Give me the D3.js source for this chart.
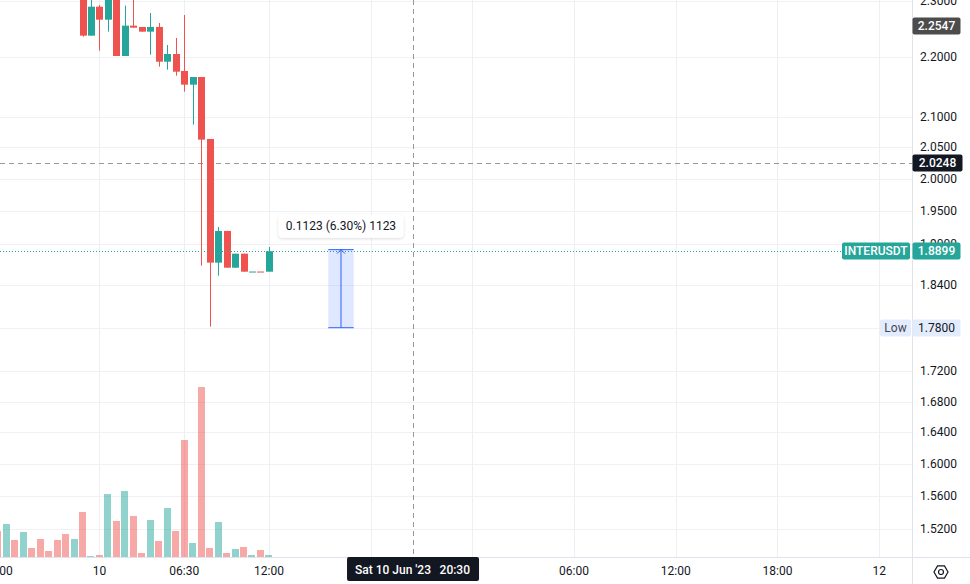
<!DOCTYPE html>
<html><head><meta charset="utf-8">
<script src="https://cdn.jsdelivr.net/npm/d3@7"></script>
<style>
body{margin:0;background:#fff;}
svg{display:block;font-family:Roboto,"Noto Sans",sans-serif;}
</style>
</head><body>
<svg id="chart" width="970" height="584"></svg>
<script>
// ---- data (30-min bars, INTERUSDT) ----
const barIndex = [-10,-9,-8,-7,-6,-5,-4,-3,-2,-1,0,1,2,3,4,5,6,7,8,9,10,11,12,13,14,15,16,17,18,19,20,21,22];
const opens  = [2.62,2.58,2.63,2.57,2.60,2.56,2.50,2.48,2.43,2.36,2.40,2.2377,2.2891,2.2659,2.32,2.2023,2.2553,2.2530,2.2447,2.2530,2.1925,2.2058,2.1766,2.1534,2.1664,2.0637,1.8731,1.9202,1.8657,1.8863,1.8599,1.8601,1.8599];
const highs  = [2.66,2.65,2.64,2.62,2.61,2.57,2.52,2.49,2.44,2.42,2.41,2.31,2.2921,2.33,2.33,2.2909,2.31,2.2530,2.2778,2.2600,2.2214,2.2337,2.2742,2.1664,2.1664,2.0637,1.9262,1.9202,1.8863,1.8863,1.8601,1.8601,1.8962];
const lows   = [2.56,2.57,2.55,2.56,2.54,2.49,2.46,2.41,2.35,2.35,2.2359,2.2377,2.2115,2.2447,2.2023,2.2023,2.2517,2.2447,2.2046,2.1839,2.1788,2.1686,2.1416,2.0869,1.8687,1.7815,1.8541,1.8657,1.8657,1.8599,1.8599,1.8599,1.8599];
const closes = [2.58,2.63,2.57,2.60,2.56,2.50,2.48,2.43,2.36,2.40,2.2377,2.2891,2.2659,2.32,2.2023,2.2553,2.2517,2.2447,2.2530,2.1925,2.2058,2.1754,2.1534,2.1664,2.0626,1.8731,1.9202,1.8657,1.8863,1.8599,1.8601,1.8599,1.8899];
const volumes = [26,33,17,25,9,18,6,17,23,18,45,1,2,63,36,66,41,4,37,16,49,26,117,14,170,9,35,4,8,10,2,7,2];

const priceTicks = [2.3,2.2,2.1,2.05,2.0,1.95,1.9,1.84,1.78,1.72,1.68,1.64,1.6,1.56,1.52];
const priceTickHidden = [1.78]; // fully covered by the "Low" badge
const timeTickIndex  = [-10,2,12,22,34,46,58,70,82,94];
const timeTickLabels = ["18:00","10","06:30","12:00","18:00","11","06:00","12:00","18:00","12"];
const timeTickHidden = [34,46]; // covered by crosshair label

const lastPrice = 1.8899, highMark = 2.2547, crossPrice = 2.0248, crossIndex = 39, lowPrice = 1.78;
const measure = {from:1.78, to:1.8923, i0:29, i1:32, text:"0.1123 (6.30%) 1123"};
const crossTimeText = ["Sat 10 Jun '23","20:30"];
const symbol = "INTERUSDT";

// ---- layout ----
const W = 970, H = 584, PW = 912, PH = 557;
const UP = "#26a69a", DOWN = "#ef5350", TXT = "#131722";

const svg = d3.select("#chart");
const x = d3.scaleLinear().domain([0, 22]).range([82.5, 82.5 + 22*8.475]);
const y = d3.scaleLog().domain([1.4873, 2.3011]).range([PH, 0]);
const yv = d3.scaleLinear().domain([0, 170]).range([PH, 387]);

svg.append("rect").attr("width", W).attr("height", H).attr("fill", "#fff");
const defs = svg.append("defs");
defs.append("clipPath").attr("id","plot").append("rect").attr("width", PW).attr("height", PH);
const f = defs.append("filter").attr("id","sh").attr("x","-20%").attr("y","-40%").attr("width","140%").attr("height","180%");
f.append("feDropShadow").attr("dx",0).attr("dy",1).attr("stdDeviation",1.5).attr("flood-color","#000").attr("flood-opacity",0.15);

const plot = svg.append("g").attr("clip-path","url(#plot)");

// grid
plot.selectAll(".hg").data(priceTicks).join("line")
  .attr("x1",0).attr("x2",PW).attr("y1",d=>Math.round(y(d))+0.5).attr("y2",d=>Math.round(y(d))+0.5)
  .attr("stroke","#f0f1f3").attr("stroke-width",1);
plot.selectAll(".vg").data(timeTickIndex).join("line")
  .attr("y1",0).attr("y2",PH).attr("x1",d=>Math.round(x(d))+0.5).attr("x2",d=>Math.round(x(d))+0.5)
  .attr("stroke","#eeeff1").attr("stroke-width",1);

const bars = barIndex.map((i,k)=>({i, o:opens[k], h:highs[k], l:lows[k], c:closes[k], v:volumes[k]}));

// volume
plot.selectAll(".vol").data(bars).join("rect")
  .attr("x", d=>Math.round(x(d.i)-3.5)).attr("width",7)
  .attr("y", d=>yv(d.v)).attr("height", d=>PH - yv(d.v))
  .attr("fill", d=> d.c>=d.o ? "rgba(38,166,154,0.5)" : "rgba(239,83,80,0.5)");

// crosshair lines
plot.append("line").attr("x1",0).attr("x2",PW).attr("y1",Math.round(y(crossPrice))+0.5).attr("y2",Math.round(y(crossPrice))+0.5)
  .attr("stroke","#9598a1").attr("stroke-dasharray","5,4");
plot.append("line").attr("y1",0).attr("y2",PH).attr("x1",Math.round(x(crossIndex))+0.5).attr("x2",Math.round(x(crossIndex))+0.5)
  .attr("stroke","#9598a1").attr("stroke-dasharray","5,4");

// candles
const cg = plot.selectAll(".cd").data(bars).join("g");
cg.append("line")
  .attr("x1", d=>Math.round(x(d.i))+0.5).attr("x2", d=>Math.round(x(d.i))+0.5)
  .attr("y1", d=>y(d.h)).attr("y2", d=>y(d.l))
  .attr("stroke", d=> d.c>=d.o ? UP : DOWN).attr("stroke-width",1);
cg.append("rect")
  .attr("x", d=>Math.round(x(d.i))-3).attr("width",7)
  .attr("y", d=>Math.min(y(d.o),y(d.c)))
  .attr("height", d=>Math.max(1, Math.abs(y(d.o)-y(d.c))))
  .attr("fill", d=> d.c>=d.o ? UP : DOWN);

// last price dotted line
plot.append("line").attr("x1",0).attr("x2",PW).attr("y1",Math.round(y(lastPrice))+0.5).attr("y2",Math.round(y(lastPrice))+0.5)
  .attr("stroke",UP).attr("stroke-dasharray","1,2");

// measure tool
const mx0 = x(measure.i0), mx1 = x(measure.i1), mxc = (mx0+mx1)/2;
const my0 = y(measure.from), my1 = y(measure.to);
plot.append("rect").attr("x",mx0).attr("y",my1).attr("width",mx1-mx0).attr("height",my0-my1).attr("fill","rgba(41,98,255,0.15)");
plot.append("line").attr("x1",mx0).attr("x2",mx1).attr("y1",my0).attr("y2",my0).attr("stroke","#2962ff");
plot.append("line").attr("x1",mx0).attr("x2",mx1).attr("y1",my1).attr("y2",my1).attr("stroke","#2962ff");
plot.append("line").attr("x1",mxc).attr("x2",mxc).attr("y1",my0).attr("y2",my1).attr("stroke","#2962ff");
plot.append("path").attr("d",`M${mxc-4},${my1+4}L${mxc},${my1}L${mxc+4},${my1+4}`).attr("fill","none").attr("stroke","#2962ff");
const tipW = 125, tipH = 23;
plot.append("rect").attr("x",mxc-tipW/2).attr("y",my1-35).attr("width",tipW).attr("height",tipH).attr("rx",4)
  .attr("fill","#fff").attr("filter","url(#sh)");
plot.append("text").attr("x",mxc).attr("y",my1-35+tipH/2).attr("text-anchor","middle").attr("dominant-baseline","central")
  .attr("font-size",12).attr("fill",TXT).text(measure.text);

// axes borders
svg.append("line").attr("x1",PW+0.5).attr("x2",PW+0.5).attr("y1",0).attr("y2",H).attr("stroke","#e0e3eb");
svg.append("line").attr("x1",0).attr("x2",W).attr("y1",PH+0.5).attr("y2",PH+0.5).attr("stroke","#e0e3eb");

// right axis labels
svg.selectAll(".pt").data(priceTicks.filter(d=>!priceTickHidden.includes(d))).join("text")
  .attr("x",920).attr("y",d=>y(d)).attr("dominant-baseline","central")
  .attr("font-size",12).attr("fill",TXT).text(d=>d3.format(".4f")(d));

// bottom axis labels
const timeTicks = timeTickIndex.map((d,k)=>({i:d, t:timeTickLabels[k]})).filter(d=>!timeTickHidden.includes(d.i));
svg.selectAll(".tt").data(timeTicks).join("text")
  .attr("x",d=>x(d.i)).attr("y",571).attr("text-anchor","middle").attr("dominant-baseline","central")
  .attr("font-size",12).attr("fill",TXT).text(d=>d.t);

// badges
function badge(xl, w, yc, fill, txt, color, weight){
  svg.append("rect").attr("x",xl).attr("y",Math.round(yc)-8.5).attr("width",w).attr("height",17).attr("rx",2).attr("fill",fill);
  svg.append("text").attr("x",xl+w/2).attr("y",Math.round(yc)).attr("text-anchor","middle").attr("dominant-baseline","central")
    .attr("font-size",12).attr("font-weight",weight||500).attr("fill",color).text(txt);
}
badge(912.5, 48, y(highMark), "#4c4c4c", d3.format(".4f")(highMark), "#fff");
badge(912.5, 50, y(crossPrice), "#131722", d3.format(".4f")(crossPrice), "#fff");
badge(880, 31, y(lowPrice), "#e3ecfc", "Low", "#434651", 400);
badge(912.5, 48, y(lowPrice), "#e3ecfc", d3.format(".4f")(lowPrice), TXT, 400);
badge(842, 68, y(lastPrice), UP, symbol, "#fff");
badge(912.5, 48, y(lastPrice), UP, d3.format(".4f")(lastPrice), "#fff");

// crosshair time label
const cx = x(crossIndex);
svg.append("rect").attr("x",cx-66).attr("y",PH).attr("width",132).attr("height",24).attr("rx",2).attr("fill","#131722");
svg.append("text").attr("x",cx-58).attr("y",570).attr("dominant-baseline","central").attr("font-size",12).attr("font-weight",500)
  .attr("fill","#fff").text(crossTimeText[0]);
svg.append("text").attr("x",cx+57).attr("y",570).attr("text-anchor","end").attr("dominant-baseline","central").attr("font-size",12).attr("font-weight",500)
  .attr("fill","#fff").text(crossTimeText[1]);

// settings icon
const ic = svg.append("g").attr("transform","translate(941,572)");
const hex = d3.range(6).map(k=>{const a=Math.PI/3*k; return [7*Math.cos(a), 7*Math.sin(a)];});
ic.append("path").attr("d","M"+hex.map(p=>p.join(",")).join("L")+"Z").attr("fill","none").attr("stroke",TXT).attr("stroke-width",1.2);
ic.append("circle").attr("r",2.5).attr("fill","none").attr("stroke",TXT).attr("stroke-width",1.2);
</script>
</body></html>
